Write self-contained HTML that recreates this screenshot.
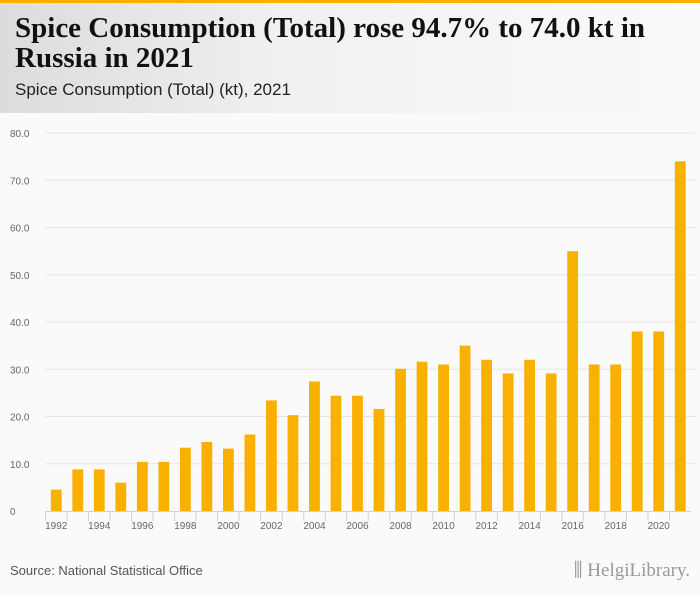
<!DOCTYPE html>
<html><head><meta charset="utf-8"><style>
body{margin:0;width:700px;height:596px;background:#fafafa;font-family:"Liberation Sans",sans-serif;overflow:hidden;position:relative}
#hdr{position:absolute;left:0;top:0;width:700px;height:113px;background:linear-gradient(90deg,#dcdcdc 0%,#f0f0f0 40%,#fafafa 100%)}
#topbar{position:absolute;left:0;top:0;width:700px;height:3px;background:#f9b000}
#title{position:absolute;left:15px;top:13px;font-family:"Liberation Serif",serif;font-weight:bold;font-size:29px;line-height:30px;color:#111;letter-spacing:0px}
#sub{position:absolute;left:15px;top:80px;font-size:17px;color:#222}
#src{position:absolute;left:10px;top:563px;font-size:13px;color:#555}
#logo{position:absolute;right:10px;top:560px;font-family:"Liberation Serif",serif;font-size:19px;color:#999}
</style></head><body>
<div id="hdr"></div>
<div id="topbar"></div>
<div id="title">Spice Consumption (Total) rose 94.7% to 74.0 kt in<br>Russia in 2021</div>
<div id="sub">Spice Consumption (Total) (kt), 2021</div>
<svg id="chart" width="700" height="596" style="position:absolute;left:0;top:0"></svg>
<div id="src">Source: National Statistical Office</div>
<div id="logo">⫼ HelgiLibrary.</div>
<script>
const years=[1992,1993,1994,1995,1996,1997,1998,1999,2000,2001,2002,2003,2004,2005,2006,2007,2008,2009,2010,2011,2012,2013,2014,2015,2016,2017,2018,2019,2020,2021];
const values=[4.5,8.8,8.8,6.0,10.4,10.4,13.4,14.6,13.2,16.2,23.4,20.3,27.4,24.4,24.4,21.6,30.1,31.6,31.0,35.0,32.0,29.1,32.0,29.1,55.0,31.0,31.0,38.0,38.0,74.0];
const yTicks=[0,10,20,30,40,50,60,70,80];
const yTickLabels=["0","10.0","20.0","30.0","40.0","50.0","60.0","70.0","80.0"];
const svg=document.getElementById('chart');const NS='http://www.w3.org/2000/svg';
const x0=45.5,x1=691,y0=511,y1=133,yMax=80;
const bw=(x1-x0)/years.length;
function y(v){return y0-(v/yMax)*(y0-y1);}
function xc(i){return x0+bw*(i+0.5);}
function mk(t,a){const e=document.createElementNS(NS,t);for(const k in a)e.setAttribute(k,a[k]);svg.appendChild(e);return e;}
yTicks.forEach((t,i)=>{
 if(t>0){const g=mk('line',{x1:x0,x2:695,y1:y(t),y2:y(t),stroke:'#e4e4e4','stroke-width':1});
 
 }
 const l=mk('text',{x:10,y:y(t)+4,'font-size':10,fill:'#666','font-family':'Liberation Sans,sans-serif'});
 l.textContent=yTickLabels[i];
 
 
});
const ax=mk('line',{x1:x0,x2:x1,y1:y0+0.5,y2:y0+0.5,stroke:'#c8d4e6','stroke-width':1});


years.forEach((yr,i)=>{
 const tk=mk('line',{x1:x0+bw*i,x2:x0+bw*i,y1:y0,y2:y0+10,stroke:'#c8d4e6'});
 
 
 const b=mk('rect',{x:xc(i)-5.4,y:y(values[i]),width:10.8,height:y0-y(values[i]),fill:'#f9b000'});
 
 
 if(i%2===0){const t=mk('text',{x:xc(i),y:y0+18,'font-size':10,fill:'#666','text-anchor':'middle','font-family':'Liberation Sans,sans-serif'});
 t.textContent=yr;
 
 }
});
</script>
</body></html>
